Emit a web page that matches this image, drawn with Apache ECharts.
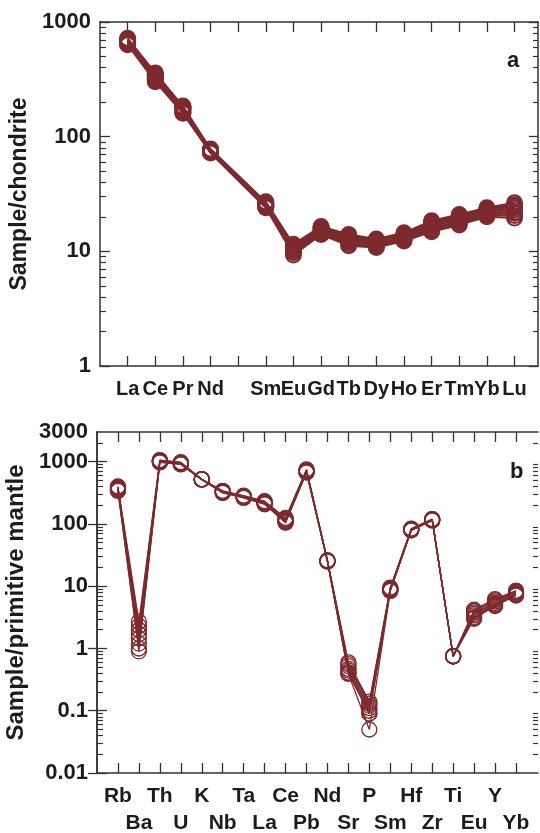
<!DOCTYPE html>
<html>
<head>
<meta charset="utf-8">
<script src="https://cdn.jsdelivr.net/npm/echarts@6/dist/echarts.min.js"></script>
<style>
html, body { margin: 0; padding: 0; background: #fff; }
#chart { width: 540px; height: 833px; }
</style>
</head>
<body>
<div id="chart"></div>
<script>
// (a) REE, chondrite normalised -- Pm slot left empty
var reeElements = ['La','Ce','Pr','Nd','Sm','Eu','Gd','Tb','Dy','Ho','Er','Tm','Yb','Lu'];
var reePos = [1,2,3,4,6,7,8,9,10,11,12,13,14,15];
var reeSamples = [
    [720, 360, 185, 78, 27.0, 11.5, 16.5, 14.0, 12.8, 14.5, 18.5, 21.0, 24.0, 26.5],
    [705, 352, 181, 77, 26.5, 11.2, 16.0, 13.6, 12.5, 14.2, 18.0, 20.5, 23.5, 25.5],
    [695, 345, 178, 76, 26.0, 11.0, 15.6, 13.2, 12.2, 14.0, 17.5, 20.0, 23.0, 25.0],
    [685, 338, 175, 75, 25.5, 10.8, 15.3, 12.9, 12.0, 13.7, 17.0, 19.5, 22.5, 24.0],
    [672, 330, 172, 75, 25.2, 10.5, 15.0, 12.6, 11.8, 13.4, 16.5, 19.0, 22.0, 23.0],
    [662, 322, 168, 74, 25.0, 10.2, 14.8, 12.3, 11.6, 13.1, 16.0, 18.5, 21.5, 22.0],
    [652, 316, 165, 73, 24.6, 10.0, 14.5, 12.0, 11.3, 12.8, 15.6, 18.0, 21.0, 21.5],
    [642, 310, 162, 73, 24.3, 9.7, 14.2, 11.6, 11.0, 12.5, 15.2, 17.5, 20.5, 20.5],
    [632, 302, 160, 72, 24.0, 9.3, 14.0, 11.2, 10.8, 12.3, 14.8, 17.0, 20.0, 19.5],
    [700, 346, 180, 76, 26.0, 11.0, 16.0, 13.2, 12.3, 14.0, 17.8, 20.0, 23.0, 24.5]
];

// (b) trace elements, primitive mantle normalised
var traceElements = ['Rb','Ba','Th','U','K','Nb','Ta','La','Ce','Pb','Nd','Sr','P','Sm','Hf','Zr','Ti','Eu','Y','Yb'];
var tracePos = [1,2,3,4,5,6,7,8,9,10,11,12,13,14,15,16,17,18,19,20];
var traceSamples = [
    [400, 2.7, 1060, 980, 520, 340, 285, 232, 125, 750, 26.0, 0.60, 0.14, 9.5, 84, 120, 0.75, 4.2, 6.2, 8.5],
    [392, 2.3, 1045, 965, 520, 336, 281, 228, 121, 735, 26.0, 0.56, 0.13, 9.3, 83, 119, 0.75, 4.0, 6.0, 8.2],
    [384, 2.0, 1030, 955, 520, 332, 277, 224, 118, 722, 25.5, 0.52, 0.12, 9.1, 82, 118, 0.75, 3.8, 5.7, 8.0],
    [375, 1.7, 1015, 945, 520, 328, 274, 220, 115, 710, 25.5, 0.47, 0.11, 9.0, 81, 117, 0.75, 3.6, 5.4, 7.8],
    [366, 1.45, 1005, 935, 520, 325, 271, 216, 112, 700, 25.5, 0.44, 0.10, 8.8, 80, 116, 0.75, 3.4, 5.2, 7.5],
    [357, 1.2, 995, 925, 520, 322, 268, 213, 110, 690, 25.0, 0.41, 0.09, 8.6, 80, 115, 0.75, 3.2, 5.0, 7.3],
    [348, 1.0, 985, 915, 520, 318, 265, 210, 107, 680, 25.0, 0.39, 0.05, 8.4, 79, 114, 0.75, 3.0, 4.8, 7.1],
    [340, 0.9, 975, 905, 520, 315, 262, 207, 105, 670, 25.0, 0.40, 0.09, 8.5, 79, 114, 0.75, 3.1, 4.9, 7.2]
];

var topMajor = [1, 10, 100, 1000];
var botMajor = [0.01, 0.1, 1, 10, 100, 1000];
var botLabels = [0.01, 0.1, 1, 10, 100, 1000, 3000];

var red = '#7d2a2e';
var ink = '#1c1c1c';
var font = '"Liberation Sans", Arial, sans-serif';

function minors(lo, hi) {
    var out = [];
    for (var d = lo; d < hi; d *= 10) {
        for (var k = 2; k <= 9; k++) {
            var v = Number((k * d).toPrecision(6));
            if (v < hi) out.push(v);
        }
    }
    return out;
}

var myChart = echarts.init(document.getElementById('chart'));

function yAxes(grid, min, max, major, labels, name, gap, nameSize) {
    var base = {
        type: 'log', gridIndex: grid, min: min, max: max, logBase: 10,
        splitLine: { show: false }, minorTick: { show: false }
    };
    return [
        Object.assign({}, base, {
            position: 'left',
            name: name, nameLocation: 'middle', nameGap: gap,
            nameTextStyle: { fontFamily: font, fontSize: nameSize, fontWeight: 'bold', color: ink },
            axisLine: { show: true, lineStyle: { color: '#333', width: 1.5 } },
            axisTick: { show: true, inside: true, length: 10, customValues: major, lineStyle: { color: '#333', width: 1.3 } },
            axisLabel: {
                show: true, margin: 9, customValues: labels, showMinLabel: true, showMaxLabel: true,
                fontFamily: font, fontSize: 22, fontWeight: 'bold', color: ink,
                formatter: function (v) { return String(v); }
            }
        }),
        Object.assign({}, base, {
            position: 'left',
            axisLine: { show: false },
            axisTick: { show: true, inside: true, length: 6, customValues: minors(min, max), lineStyle: { color: '#333', width: 1.2 } },
            axisLabel: { show: false }
        }),
        Object.assign({}, base, {
            position: 'right',
            axisLine: { show: true, lineStyle: { color: '#333', width: 1.5 } },
            axisTick: { show: true, inside: true, length: 9, customValues: major, lineStyle: { color: '#333', width: 1.3 } },
            axisLabel: { show: false }
        }),
        Object.assign({}, base, {
            position: 'right',
            axisLine: { show: false },
            axisTick: { show: true, inside: true, length: 5, customValues: minors(min, max), lineStyle: { color: '#333', width: 1.2 } },
            axisLabel: { show: false }
        })
    ];
}

// labels given as [position, name] pairs; margin sets the row
function labelAxis(grid, max, pairs, margin, size, withLine, ticks) {
    var vals = pairs.map(function (p) { return p[0]; });
    return {
        type: 'value', gridIndex: grid, min: 0, max: max, position: 'bottom',
        splitLine: { show: false },
        axisLine: { show: withLine, onZero: false, lineStyle: { color: '#333', width: 1.5 } },
        axisTick: { show: !!ticks, inside: true, length: 10, customValues: ticks || vals, lineStyle: { color: '#333', width: 1.3 } },
        axisLabel: {
            show: true, customValues: vals, margin: margin,
            showMinLabel: true, showMaxLabel: true, hideOverlap: false,
            fontFamily: font, fontWeight: 'bold', color: ink, fontSize: size,
            formatter: function (v) {
                var i = vals.indexOf(v);
                return i < 0 ? '' : pairs[i][1];
            }
        }
    };
}

function topFrame(grid, max, ticks) {
    return {
        type: 'value', gridIndex: grid, min: 0, max: max, position: 'top',
        splitLine: { show: false },
        axisLine: { show: true, onZero: false, lineStyle: { color: '#333', width: 1.5 } },
        axisTick: { show: true, inside: true, length: 10, customValues: ticks, lineStyle: { color: '#333', width: 1.3 } },
        axisLabel: { show: false }
    };
}

var reeTicks = [1,2,3,4,5,6,7,8,9,10,11,12,13,14,15];
var reePairs = reePos.map(function (p, i) { return [p, reeElements[i]]; });
var traceRow1 = [], traceRow2 = [];
tracePos.forEach(function (p, i) {
    (i % 2 === 0 ? traceRow1 : traceRow2).push([p, traceElements[i]]);
});

var series = [];
reeSamples.forEach(function (s) {
    series.push({
        type: 'line', xAxisIndex: 0, yAxisIndex: 0,
        data: reePos.map(function (p, i) { return [p, s[i]]; }),
        symbol: 'circle', symbolSize: 15,
        itemStyle: { color: 'rgba(0,0,0,0)', borderColor: red, borderWidth: 2 },
        lineStyle: { color: red, width: 2 },
        silent: true, animation: false
    });
});
traceSamples.forEach(function (s) {
    series.push({
        type: 'line', xAxisIndex: 2, yAxisIndex: 4,
        data: tracePos.map(function (p, i) { return [p, s[i]]; }),
        symbol: 'circle', symbolSize: 15,
        itemStyle: { color: 'rgba(0,0,0,0)', borderColor: red, borderWidth: 1.3 },
        lineStyle: { color: red, width: 1.3 },
        silent: true, animation: false
    });
});

var option = {
    backgroundColor: '#fff',
    animation: false,
    title: [
        { text: 'a', left: 502, top: 45, textStyle: { fontFamily: font, fontSize: 22, fontWeight: 'bold', color: ink } },
        { text: 'b', left: 505, top: 456, textStyle: { fontFamily: font, fontSize: 22, fontWeight: 'bold', color: ink } }
    ],
    grid: [
        { left: 100, top: 22, right: 2, bottom: 833 - 366, containLabel: false, outerBoundsMode: 'none' },
        { left: 97, top: 432, right: 2, bottom: 833 - 773, containLabel: false, outerBoundsMode: 'none' }
    ],
    xAxis: [
        labelAxis(0, 15.85, reePairs, 13, 20, true, reeTicks),
        topFrame(0, 15.85, reeTicks),
        labelAxis(1, 21.05, traceRow1, 13, 21, true, tracePos),
        topFrame(1, 21.05, tracePos),
        labelAxis(1, 21.05, traceRow2, 40, 21, false, null)
    ],
    yAxis: yAxes(0, 1, 1000, topMajor, topMajor, 'Sample/chondrite', 60, 23)
        .concat(yAxes(1, 0.01, 3000, botMajor, botLabels, 'Sample/primitive mantle', 59, 24)),
    series: series
};
myChart.setOption(option);
</script>
</body>
</html>
